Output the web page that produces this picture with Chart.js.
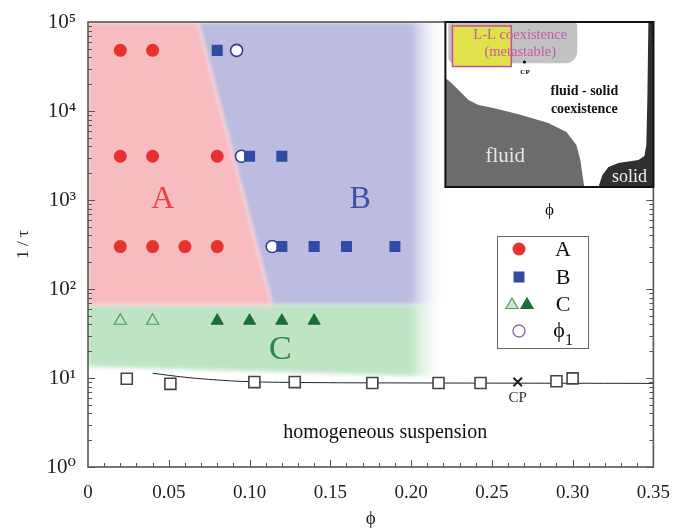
<!DOCTYPE html>
<html><head><meta charset="utf-8">
<script src="https://cdn.jsdelivr.net/npm/chart.js@4.4.1/dist/chart.umd.min.js"></script>
<style>html,body{margin:0;padding:0;background:#fff;} #wrap{width:677px;height:532px;position:relative}</style>
</head><body><div id="wrap"><canvas id="c" width="677" height="532"></canvas></div>
<script>
// ---- tick labels ----
const yTicks = [1, 10, 100, 1000, 10000, 100000];
const yTickLabels = ['10\u2070', '10\u00B9', '10\u00B2', '10\u00B3', '10\u2074', '10\u2075'];
const xTicks = [0, 0.05, 0.10, 0.15, 0.20, 0.25, 0.30, 0.35];
const xTickLabels = ['0', '0.05', '0.10', '0.15', '0.20', '0.25', '0.30', '0.35'];

// ---- series (phi, 1/tau) ----
const phiA = [0.02, 0.04, 0.02, 0.04, 0.08, 0.02, 0.04, 0.06, 0.08];
const tauA = [48000, 48000, 3100, 3100, 3100, 300, 300, 300, 300];
const phiB = [0.08, 0.10, 0.12, 0.12, 0.14, 0.16, 0.19];
const tauB = [48000, 3100, 3100, 300, 300, 300, 300];
const phiCopen = [0.02, 0.04];
const tauCopen = [44, 44];
const phiCfilled = [0.08, 0.10, 0.12, 0.14];
const tauCfilled = [44, 44, 44, 44];
const phiL = [0.092, 0.095, 0.114];
const tauL = [48000, 3100, 300];
const phiHom = [0.024, 0.051, 0.103, 0.128, 0.176, 0.217, 0.243, 0.29, 0.30];
const tauHom = [9.8, 8.6, 9.0, 9.0, 8.8, 8.8, 8.8, 9.2, 9.9];
const phiCP = [0.266];
const tauCP = [9.0];
const phiLine = [0.04, 0.06, 0.08, 0.10, 0.13, 0.20, 0.35];
const tauLine = [11.3, 10.2, 9.5, 9.1, 8.9, 8.8, 8.7];

// ---- shaded regions (phi, 1/tau) ----
const regionA = [[0, 1e5], [0.068, 1e5], [0.114, 66], [0, 66]];
const regionB = [[0.068, 1e5], [0.222, 1e5], [0.222, 66], [0.114, 66]];
const regionC = [[0, 66], [0.222, 66], [0.222, 10.3], [0, 13.5]];

const zip = (xs, ys) => xs.map((v, i) => ({x: v, y: ys[i]}));
const SERIF = '"Liberation Serif", "DejaVu Serif", serif';

const C_RED = '#e8322e', C_BLUE = '#2f4ba3', C_GREEN = '#1c6e38', C_GREEN_L = '#4f9a62';
const C_PURPLE = '#3b3a8c';

function polyPath(ctx, x, y, pts) {
  ctx.beginPath();
  pts.forEach((p, i) => {
    const px = x.getPixelForValue(p[0]), py = y.getPixelForValue(p[1]);
    if (i === 0) ctx.moveTo(px, py); else ctx.lineTo(px, py);
  });
  ctx.closePath();
}

const shadePlugin = {
  id: 'shade',
  beforeDatasetsDraw(chart) {
    const {ctx, chartArea: a, scales: {x, y}} = chart;
    ctx.save();
    ctx.beginPath(); ctx.rect(a.left, a.top, a.right - a.left, a.bottom - a.top); ctx.clip();
    const x0 = x.getPixelForValue(0.200), x1 = x.getPixelForValue(0.222);
    const mk = (col) => {
      const g = ctx.createLinearGradient(x0, 0, x1, 0);
      g.addColorStop(0, col); g.addColorStop(1, 'rgba(255,255,255,0)');
      return g;
    };
    ctx.filter = 'blur(2px)';
    ctx.fillStyle = mk('rgb(187,188,224)');
    polyPath(ctx, x, y, regionB); ctx.fill();
    ctx.fillStyle = mk('rgb(190,228,196)');
    polyPath(ctx, x, y, regionC); ctx.fill();
    ctx.fillStyle = 'rgb(247,187,192)';
    polyPath(ctx, x, y, regionA); ctx.fill();
    ctx.filter = 'none';
    ctx.restore();
  }
};

function drawTri(ctx, cx, cy, r, fill, stroke) {
  ctx.beginPath();
  ctx.moveTo(cx, cy - r);
  ctx.lineTo(cx + r * 0.866, cy + r * 0.5);
  ctx.lineTo(cx - r * 0.866, cy + r * 0.5);
  ctx.closePath();
  ctx.fillStyle = fill; ctx.fill();
  ctx.strokeStyle = stroke; ctx.lineWidth = 1.2; ctx.stroke();
}

const framePlugin = {
  id: 'frame',
  afterDraw(chart) {
    const {ctx, chartArea: a, scales: {x, y}} = chart;
    ctx.save();
    // ---- frame ----
    ctx.strokeStyle = '#555'; ctx.lineWidth = 1.6;
    ctx.strokeRect(a.left, a.top, a.right - a.left, a.bottom - a.top);
    // ---- ticks ----
    ctx.lineWidth = 1;
    ctx.beginPath();
    for (let k = 0; k < 5; k++) {
      for (let m = 1; m < 10; m++) {
        const v = m * Math.pow(10, k);
        const py = Math.round(y.getPixelForValue(v)) + 0.5;
        const len = m === 1 ? 7 : 4;
        ctx.moveTo(a.left, py); ctx.lineTo(a.left + len, py);
        ctx.moveTo(a.right, py); ctx.lineTo(a.right - len, py);
      }
    }
    for (let i = 1; i < 35; i++) {
      const v = i / 100;
      const px = Math.round(x.getPixelForValue(v)) + 0.5;
      const len = i % 5 === 0 ? 7 : 4;
      ctx.moveTo(px, a.bottom); ctx.lineTo(px, a.bottom - len);
    }
    ctx.stroke();

    // ---- region labels ----
    ctx.textAlign = 'center'; ctx.textBaseline = 'middle';
    ctx.font = '32px ' + SERIF;
    ctx.fillStyle = '#e2433f';
    ctx.fillText('A', x.getPixelForValue(0.0463), y.getPixelForValue(1000));
    ctx.fillStyle = '#3c52a8';
    ctx.fillText('B', x.getPixelForValue(0.1685), y.getPixelForValue(1000));
    ctx.fillStyle = '#2b8a47';
    ctx.font = '34px ' + SERIF;
    ctx.fillText('C', x.getPixelForValue(0.119), y.getPixelForValue(20.6));
    ctx.fillStyle = '#111';
    ctx.font = '20px ' + SERIF;
    ctx.fillText('homogeneous suspension', x.getPixelForValue(0.184), y.getPixelForValue(2.4));
    ctx.font = '15px ' + SERIF;
    ctx.fillStyle = '#333';
    ctx.fillText('CP', x.getPixelForValue(0.266), y.getPixelForValue(6.0));

    // ---- inset ----
    const W = 208, H = 165, L = a.right - W, T = a.top;
    const P = (u, v) => [L + u * W, T + v * H];
    ctx.fillStyle = '#fff';
    ctx.fillRect(L, T, W, H);
    // light gray L-L region
    ctx.fillStyle = '#c2c2c2';
    ctx.beginPath();
    ctx.roundRect(L + 0.014 * W, T + 0.006 * H, 0.62 * W, 0.244 * H, [2, 2, 12, 6]);
    ctx.fill();
    // yellow box
    ctx.fillStyle = '#dfe24a';
    ctx.fillRect(L + 0.034 * W, T + 0.024 * H, 0.283 * W, 0.246 * H);
    ctx.strokeStyle = '#c44f9c'; ctx.lineWidth = 1.5;
    ctx.strokeRect(L + 0.034 * W, T + 0.024 * H, 0.283 * W, 0.246 * H);
    // fluid region
    const fluid = [[0,0.34],[0.024,0.364],[0.063,0.412],[0.111,0.473],[0.159,0.503],[0.231,0.521],[0.365,0.564],[0.495,0.612],[0.582,0.667],[0.630,0.745],[0.649,0.836],[0.659,0.927],[0.668,1],[0,1]];
    ctx.fillStyle = '#6c6c6c';
    ctx.beginPath();
    fluid.forEach((p, i) => { const q = P(p[0], p[1]); i ? ctx.lineTo(q[0], q[1]) : ctx.moveTo(q[0], q[1]); });
    ctx.closePath(); ctx.fill();
    // solid region
    const solid = [[0.736,1],[0.755,0.927],[0.784,0.879],[0.832,0.855],[0.928,0.836],[0.957,0.812],[0.966,0.745],[0.971,0.473],[0.976,0],[1,0],[1,1]];
    ctx.fillStyle = '#303030';
    ctx.beginPath();
    solid.forEach((p, i) => { const q = P(p[0], p[1]); i ? ctx.lineTo(q[0], q[1]) : ctx.moveTo(q[0], q[1]); });
    ctx.closePath(); ctx.fill();
    // inset texts
    ctx.textAlign = 'center'; ctx.textBaseline = 'middle';
    ctx.fillStyle = '#c25aa8';
    ctx.font = '14.5px ' + SERIF;
    let q = P(0.36, 0.08); ctx.fillText('L-L coexistence', q[0], q[1]);
    q = P(0.36, 0.182); ctx.fillText('(metastable)', q[0], q[1]);
    ctx.fillStyle = '#000';
    q = P(0.38, 0.242); ctx.beginPath(); ctx.arc(q[0], q[1], 1.5, 0, Math.PI * 2); ctx.fill();
    ctx.font = 'bold 7px ' + SERIF;
    q = P(0.383, 0.303); ctx.fillText('CP', q[0], q[1]);
    ctx.font = 'bold 14px ' + SERIF;
    ctx.fillStyle = '#111';
    q = P(0.668, 0.418); ctx.fillText('fluid - solid', q[0], q[1]);
    q = P(0.668, 0.527); ctx.fillText('coexistence', q[0], q[1]);
    ctx.fillStyle = '#e6e6e6';
    ctx.font = '21px ' + SERIF;
    q = P(0.288, 0.818); ctx.fillText('fluid', q[0], q[1]);
    ctx.fillStyle = '#f2f2f2';
    ctx.font = '18px ' + SERIF;
    q = P(0.885, 0.94); ctx.fillText('solid', q[0], q[1]);
    ctx.strokeStyle = '#111'; ctx.lineWidth = 2;
    ctx.strokeRect(L, T, W, H);
    ctx.fillStyle = '#111';
    ctx.font = '17px ' + SERIF;
    ctx.fillText('\u03D5', L + 0.5 * W, T + H + 24);

    // ---- legend ----
    const lx = 497, ly = 236, lw = 91, lh = 112;
    ctx.fillStyle = '#fff'; ctx.fillRect(lx, ly, lw, lh);
    ctx.strokeStyle = '#666'; ctx.lineWidth = 1; ctx.strokeRect(lx + 0.5, ly + 0.5, lw, lh);
    const mx = lx + 22, tx = lx + 66;
    const rows = [ly + 13, ly + 41, ly + 68, ly + 95];
    ctx.fillStyle = C_RED; ctx.beginPath(); ctx.arc(mx, rows[0], 6.5, 0, Math.PI * 2); ctx.fill();
    ctx.fillStyle = C_BLUE; ctx.fillRect(mx - 5.5, rows[1] - 5.5, 11, 11);
    drawTri(ctx, mx - 7, rows[2] + 1, 7, '#c9e8cf', C_GREEN_L);
    drawTri(ctx, mx + 8, rows[2] + 1, 7, C_GREEN, C_GREEN);
    ctx.fillStyle = '#fff'; ctx.strokeStyle = '#8a68b0'; ctx.lineWidth = 1.3;
    ctx.beginPath(); ctx.arc(mx, rows[3], 6, 0, Math.PI * 2); ctx.fill(); ctx.stroke();
    ctx.fillStyle = '#111'; ctx.font = '22px ' + SERIF; ctx.textAlign = 'center';
    ctx.fillText('A', tx, rows[0] + 1);
    ctx.fillText('B', tx, rows[1] + 1);
    ctx.fillText('C', tx, rows[2] + 1);
    ctx.fillText('\u03D5', tx - 4, rows[3]);
    ctx.font = '16px ' + SERIF;
    ctx.fillText('1', tx + 6, rows[3] + 10);
    ctx.restore();
  }
};

new Chart(document.getElementById('c'), {
  type: 'scatter',
  data: {
    datasets: [
      {label: 'CP', data: zip(phiCP, tauCP), pointStyle: 'crossRot', radius: 6, borderColor: '#222', borderWidth: 2, order: 1},
      {label: 'homogeneous', data: zip(phiHom, tauHom), pointStyle: 'rect', radius: 7.8, backgroundColor: '#fff', borderColor: '#444', borderWidth: 1.6, order: 2},
      {label: 'boundary', type: 'line', data: zip(phiLine, tauLine), showLine: true, borderColor: '#222', borderWidth: 1, pointRadius: 0, tension: 0.4, fill: false, order: 3},
      {label: 'B', data: zip(phiB, tauB), pointStyle: 'rect', radius: 7.8, backgroundColor: C_BLUE, borderColor: C_BLUE, borderWidth: 0, order: 4},
      {label: 'phi_l', data: zip(phiL, tauL), pointStyle: 'circle', radius: 6, backgroundColor: '#fff', borderColor: C_PURPLE, borderWidth: 1.6, order: 5},
      {label: 'A', data: zip(phiA, tauA), pointStyle: 'circle', radius: 6.5, backgroundColor: C_RED, borderColor: C_RED, borderWidth: 0, order: 6},
      {label: 'C filled', data: zip(phiCfilled, tauCfilled), pointStyle: 'triangle', radius: 7, backgroundColor: C_GREEN, borderColor: C_GREEN, borderWidth: 1, order: 7},
      {label: 'C open', data: zip(phiCopen, tauCopen), pointStyle: 'triangle', radius: 7, backgroundColor: 'rgba(0,0,0,0)', borderColor: C_GREEN_L, borderWidth: 1.2, order: 8}
    ]
  },
  options: {
    responsive: false,
    animation: false,
    layout: {padding: {top: 22, right: 22, left: 0, bottom: 0}},
    plugins: {legend: {display: false}, tooltip: {enabled: false}},
    scales: {
      x: {
        type: 'linear', min: 0, max: 0.35,
        afterBuildTicks: s => { s.ticks = xTicks.map(v => ({value: v})); },
        ticks: {callback: (v, i) => xTickLabels[i], font: {family: SERIF, size: 19}, color: '#222', padding: 7, maxRotation: 0, autoSkip: false},
        grid: {display: false}, border: {display: false},
        title: {display: true, text: '\u03D5', font: {family: SERIF, size: 19}, color: '#222', padding: {top: 0, bottom: 2}},
        afterFit: s => { s.height = 65; }
      },
      y: {
        type: 'logarithmic', min: 1, max: 1e5,
        afterBuildTicks: s => { s.ticks = yTicks.map(v => ({value: v})); },
        ticks: {callback: v => yTickLabels[Math.round(Math.log10(v))], font: {family: SERIF, size: 21}, color: '#222', padding: 4, autoSkip: false},
        grid: {display: false}, border: {display: false},
        title: {display: true, text: '1 / \u03C4', font: {family: SERIF, size: 17}, color: '#222', padding: {top: 13, bottom: 0}},
        afterFit: s => { s.width = 88; }
      }
    }
  },
  plugins: [shadePlugin, framePlugin]
});
</script>
</body></html>
